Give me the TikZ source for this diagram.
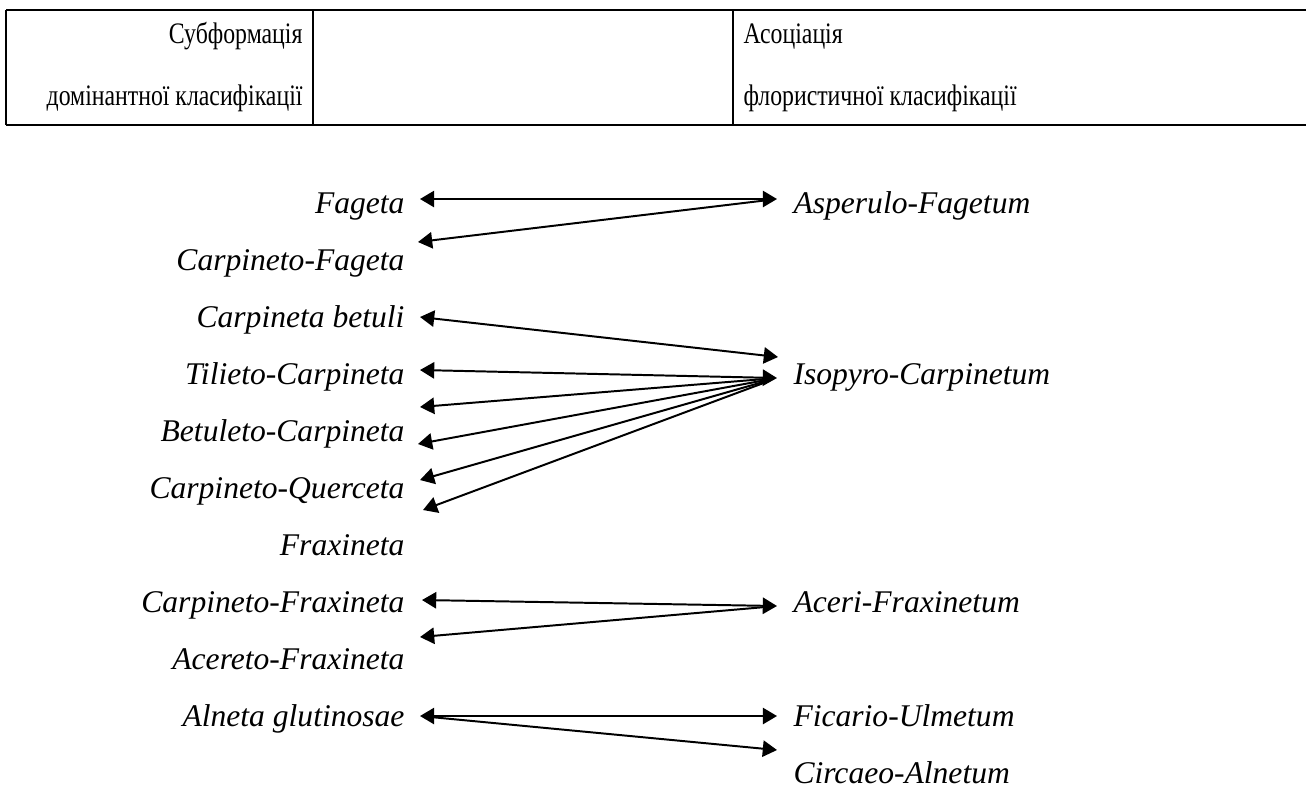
\documentclass[tikz,border=0pt]{standalone}
\usepackage{fontspec}
\setmainfont{Liberation Serif}
\newfontfamily\headfont{Liberation Serif}[FakeStretch=0.8]
\usetikzlibrary{arrows.meta}

\begin{document}
\begin{tikzpicture}[x=0.38pt,y=-0.38pt,>={Triangle[length=5.4pt,width=6.2pt]},
  every node/.style={inner sep=0pt,font=\fontsize{12}{14}\selectfont},
  head/.style={font=\fontsize{11.3}{14}\headfont},
  lname/.style={anchor=base east,font=\fontsize{12}{14}\selectfont\itshape},
  rname/.style={anchor=base west,font=\fontsize{12}{14}\selectfont\itshape},
  link/.style={line width=0.75pt},
  fan/.style={line width=0.75pt,shorten <=4.5pt}]
\useasboundingbox (0,0) rectangle (1306,787);

\draw[line width=1pt] (6,10) -- (1306,10) (6,125) -- (1306,125)
  (6,10) -- (6,125) (313,10) -- (313,125) (733,10) -- (733,125);
\node (hsub)  [head,anchor=base east] at (303,43)  {Субформація};
\node (hdom)  [head,anchor=base east] at (303,105) {домінантної класифікації};
\node (hasoc) [head,anchor=base west] at (743,43)  {Асоціація};
\node (hflor) [head,anchor=base west] at (743,105) {флористичної класифікації};

\node (fag)   [lname] at (405,213) {Fageta};
\node (cfag)  [lname] at (405,270) {Carpineto-Fageta};
\node (cbet)  [lname] at (405,327) {Carpineta betuli};
\node (tcar)  [lname] at (405,384) {Tilieto-Carpineta};
\node (bcar)  [lname] at (405,441) {Betuleto-Carpineta};
\node (cque)  [lname] at (405,498) {Carpineto-Querceta};
\node (frax)  [lname] at (405,555) {Fraxineta};
\node (cfrax) [lname] at (405,612) {Carpineto-Fraxineta};
\node (afrax) [lname] at (405,669) {Acereto-Fraxineta};
\node (aglu)  [lname] at (405,726) {Alneta glutinosae};

\node (asp)   [rname] at (793,213) {Asperulo-Fagetum};
\node (iso)   [rname] at (793,384) {Isopyro-Carpinetum};
\node (acfr)  [rname] at (793,612) {Aceri-Fraxinetum};
\node (ficu)  [rname] at (793,726) {Ficario-Ulmetum};
\node (caln)  [rname] at (793,783) {Circaeo-Alnetum};

\coordinate (tfag)  at (420,199);
\coordinate (tcfag) at (418,242);
\coordinate (tcbet) at (420,317);
\coordinate (ttcar) at (420,370);
\coordinate (tb1)   at (420,407);
\coordinate (tb2)   at (418,444);
\coordinate (tq1)   at (420,480);
\coordinate (tq2)   at (423,510);
\coordinate (tcfr)  at (422,600);
\coordinate (tafr)  at (420,637);
\coordinate (tagl)  at (420,716);

\coordinate (pasp)  at (777,199);
\coordinate (pisb)  at (778,357);
\coordinate (piso)  at (777,378);
\coordinate (pacf)  at (777,606);
\coordinate (pfic)  at (777,716);
\coordinate (pcal)  at (777,750);

\draw[<->,link] (tfag) -- (pasp);
\draw[->,fan] (pasp) -- (tcfag);
\draw[<->,link] (tcbet) -- (pisb);
\draw[<->,link] (ttcar) -- (piso);
\draw[->,fan] (piso) -- (tb1);
\draw[->,fan] (piso) -- (tb2);
\draw[->,fan] (piso) -- (tq1);
\draw[->,fan] (piso) -- (tq2);
\draw[<->,link] (tcfr) -- (pacf);
\draw[->,fan] (pacf) -- (tafr);
\draw[<->,link] (tagl) -- (pfic);
\draw[->,fan] (tagl) -- (pcal);
\end{tikzpicture}
\end{document}
